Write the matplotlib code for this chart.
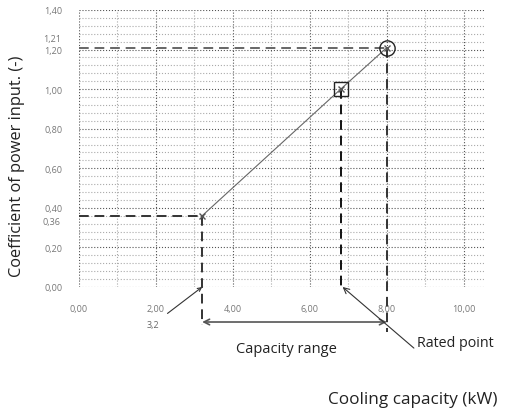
import matplotlib
matplotlib.use('Agg')
import matplotlib.pyplot as plt
from matplotlib.ticker import MultipleLocator, FuncFormatter

# data
capacity = [3.2, 6.8, 8.0]
coeff = [0.36, 1.00, 1.21]
min_point = (3.2, 0.36)
square_point = (6.8, 1.00)
rated_point = (8.0, 1.21)

plt.rcParams['font.family'] = ['Open Sans', 'DejaVu Sans']

fig = plt.figure(figsize=(5.14, 4.10), dpi=100)
ax = fig.add_axes([0.1537, 0.2976, 0.7899, 0.6756])

ax.set_xlim(0, 10.55)
ax.set_ylim(0, 1.4)
for s in ax.spines.values():
    s.set_visible(False)

ax.xaxis.set_major_locator(MultipleLocator(2))
ax.xaxis.set_minor_locator(MultipleLocator(1))
ax.yaxis.set_major_locator(MultipleLocator(0.2))
ax.yaxis.set_minor_locator(MultipleLocator(0.04))
fmt = FuncFormatter(lambda v, p: ('%.2f' % v).replace('.', ','))
ax.xaxis.set_major_formatter(fmt)
ax.yaxis.set_major_formatter(fmt)
ax.tick_params(which='both', length=0, labelsize=6.5, labelcolor='#777777')
ax.tick_params(axis='x', pad=12)
ax.tick_params(axis='y', pad=12)

ax.grid(which='major', linestyle=':', color='#555555', linewidth=0.8)
ax.grid(which='minor', linestyle=':', color='#aaaaaa', linewidth=0.8)
ax.set_axisbelow(True)

# extra value labels on the y axis
ax.text(-0.045, 1.255, '1,21', transform=ax.get_yaxis_transform(), ha='right', va='center',
        fontsize=6.5, color='#777777')
ax.text(-0.045, 0.33, '0,36', transform=ax.get_yaxis_transform(), ha='right', va='center',
        fontsize=6.5, color='#777777')

# characteristic line
ax.plot(capacity, coeff, color='#666666', linewidth=0.8, marker='x', markersize=4,
        markeredgecolor='#555555', zorder=3)

# dashed guides
dash = dict(linestyle=(0, (5, 3)), linewidth=1.4, clip_on=False)
ax.plot([0, rated_point[0]], [rated_point[1], rated_point[1]], color='#666666', **dash)
ax.plot([0, min_point[0]], [min_point[1], min_point[1]], color='#333333', **dash)
ax.plot([min_point[0], min_point[0]], [min_point[1], -0.19], color='#333333', **dash)
ax.plot([square_point[0], square_point[0]], [square_point[1], 0], color='#111111', **dash)
ax.plot([rated_point[0], rated_point[0]], [rated_point[1], -0.23], color='#333333', **dash)

# highlighted points
ax.plot(*rated_point, marker='o', markersize=11, markerfacecolor='none',
        markeredgecolor='#222222', markeredgewidth=1.0, zorder=4)
ax.plot(*square_point, marker='s', markersize=10, markerfacecolor='none',
        markeredgecolor='#222222', markeredgewidth=1.0, zorder=4)

# annotations
ax.annotate('3,2', xy=(3.2, 0), xytext=(1.92, -0.19), fontsize=6.5, color='#666666',
            ha='center', va='center', annotation_clip=False,
            arrowprops=dict(arrowstyle='->', color='#333333', lw=0.8, shrinkA=5, shrinkB=0))
ax.annotate('', xy=(3.2, -0.177), xytext=(8.0, -0.177), annotation_clip=False,
            arrowprops=dict(arrowstyle='<->', color='#555555', lw=1.2, shrinkA=0, shrinkB=0))
ax.text(5.4, -0.31, 'Capacity range', ha='center', va='center', fontsize=10.5, color='#222222',
        clip_on=False)
ax.annotate('Rated point', xy=(6.85, 0), xytext=(9.77, -0.283), fontsize=10.3, color='#222222',
            ha='center', va='center', annotation_clip=False,
            arrowprops=dict(arrowstyle='->', color='#333333', lw=0.8, shrinkA=0, shrinkB=0,
                            relpos=(0.0, 0.0)))

fig.text(0.967, 0.025, 'Cooling capacity (kW)', ha='right', va='center', fontsize=12.3,
         color='#222222')
fig.text(0.033, 0.595, 'Coefficient of power input. (-)', rotation=90, ha='center', va='center',
         fontsize=11.8, color='#222222')

fig.savefig('out.png', dpi=100)
